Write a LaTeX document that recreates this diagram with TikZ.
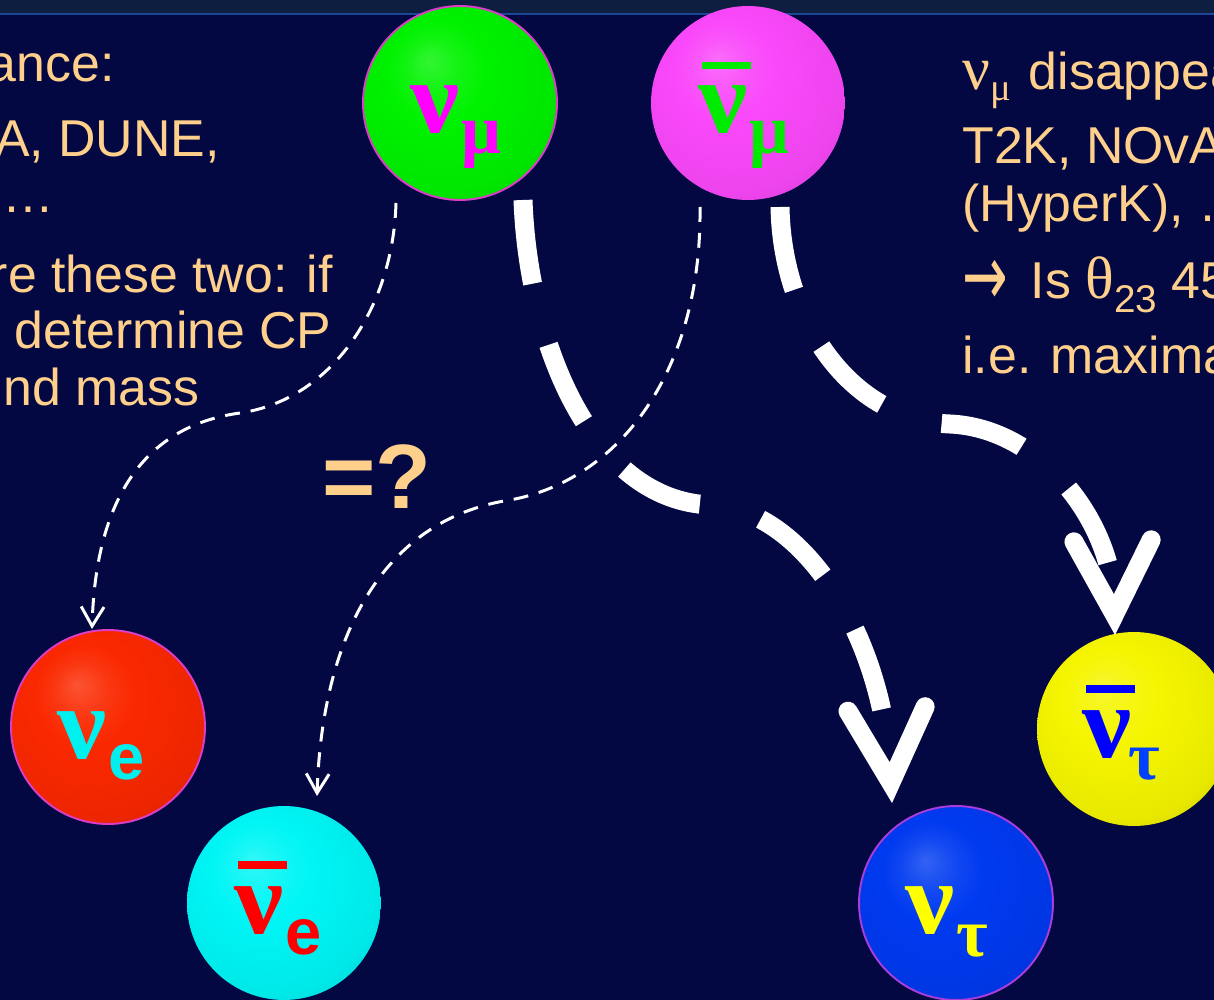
\documentclass[tikz,border=0pt]{standalone}
\usepackage{fontspec}
\setmainfont{Liberation Sans}
\newfontfamily\serif{Liberation Serif}
\newfontfamily\sansb{Liberation Sans}
\newfontfamily\dejavu{DejaVu Sans}
\usetikzlibrary{arrows.meta}
\definecolor{bgc}{RGB}{3,8,66}
\definecolor{bandc}{RGB}{14,30,64}
\definecolor{bandline}{RGB}{28,70,150}
\definecolor{peach}{RGB}{255,208,140}
\definecolor{bGreen}{RGB}{0,242,0}
\definecolor{bMag}{RGB}{250,72,250}
\definecolor{bRed}{RGB}{250,40,0}
\definecolor{bCyan}{RGB}{0,245,245}
\definecolor{bBlue}{RGB}{0,58,240}
\definecolor{bYellow}{RGB}{245,245,0}
\definecolor{lMag}{RGB}{255,0,255}
\definecolor{lGreen}{RGB}{0,235,0}
\definecolor{lCyan}{RGB}{0,240,240}
\definecolor{lRed}{RGB}{255,0,0}
\definecolor{lYellow}{RGB}{255,255,0}
\definecolor{lBlue}{RGB}{0,0,255}
\definecolor{lBlueT}{RGB}{0,64,255}
\definecolor{rimMag}{RGB}{220,60,200}
\definecolor{rimPur}{RGB}{170,60,220}
\colorlet{ballc}{white}
\pgfdeclareradialshading[ballc]{softball}{\pgfpoint{-8bp}{11bp}}{%
 color(0bp)=(ballc!80!white); color(7bp)=(ballc!93!white); color(13bp)=(ballc);
 color(28bp)=(ballc!95!black); color(36bp)=(ballc!85!black); color(50bp)=(ballc!78!black)}
\newcommand\lowsub[3]{\raisebox{-#1}{\fontsize{#2}{#2}\selectfont #3}}
\newcommand\bignu{\scalebox{1.1}[1.02]{ν}\kern1pt}
\begin{document}
\begin{tikzpicture}[x=0.02cm,y=-0.02cm,
  ballnode/.style={circle, minimum size=3.88cm, inner sep=0pt},
  sball/.style={/utils/exec={\colorlet{ballc}{#1}}, shading=softball, shade},
  txt/.style={text=peach, font=\fontsize{29.5pt}{29.5pt}\selectfont, inner sep=0pt},
  lbl/.style={anchor=base west, inner sep=0pt, font=\fontsize{57pt}{57pt}\selectfont\serif\bfseries},
  thickdash/.style={draw=white, line width=10.8pt, dash pattern=on 48pt off 36pt,
     -{Straight Barb[length=42pt,width=44pt,line cap=round,line join=miter]}},
  thindash/.style={draw=white, line width=1.7pt, dash pattern=on 8.5pt off 6.2pt,
     -{Straight Barb[length=11pt,width=13pt]}}
]
\useasboundingbox (0,0) rectangle (1214,1000);
\fill[bgc] (0,0) rectangle (1214,1000);
\clip (0,0) rectangle (1214,1000);
\fill[bandc] (0,0) rectangle (1214,13);
\draw[bandline, line width=1.2pt] (0,14) -- (1214,14);

% left column text
\node[txt, anchor=base east] (l1) at (115,82) {ance:};
\node[txt, anchor=base east] (l2) at (220,157) {A, DUNE,};
\node[txt, anchor=base east] (l3) at (55,213) {…};
\node[txt, anchor=base east] (l4) at (333,293) {re these two: if};
\node[txt, anchor=base east] (l5) at (332,348) {determine CP};
\node[txt, anchor=base east] (l6) at (200,405) {nd mass};

% right column text
\node[txt, anchor=base west] (r1) at (962,90) {{\fontsize{35pt}{35pt}\selectfont\serif ν}\lowsub{5.7pt}{22pt}{\serif μ}\kern2pt{} disappea};
\node[txt, anchor=base west] (r2) at (962,164) {T2K, NOvA};
\node[txt, anchor=base west] (r3) at (962,222) {(HyperK), …};
\node[txt, anchor=base west] (r4) at (962,298) {\raisebox{-4.5pt}{\scalebox{1.05}[1.65]{\dejavu →}}\kern13pt Is {\fontsize{34pt}{34pt}\selectfont\serif θ}\lowsub{8.5pt}{22pt}{23} 45};
\node[txt, anchor=base west] (r5) at (962,373) {i.e. maxima};

\node[txt, anchor=base west, font=\fontsize{52pt}{52pt}\selectfont\bfseries] (eq) at (322,508) {=?};

% balls
\node[ballnode, sball=bGreen, draw=rimMag, line width=1.1pt] (numu) at (460,103) {};
\node[ballnode, sball=bMag] (anumu) at (748,103) {};
\node[ballnode, sball=bRed, draw=rimMag, line width=1.1pt] (nue) at (108,727) {};
\node[ballnode, sball=bCyan] (anue) at (284,903) {};
\node[ballnode, sball=bBlue, draw=rimPur, line width=1.1pt] (nutau) at (956,903) {};
\node[ballnode, sball=bYellow] (anutau) at (1134,729) {};

% connector end points
\coordinate (s1) at (523,200);
\coordinate (e1) at (892,803);
\coordinate (s2) at (780,207);
\coordinate (e2) at (1115,635);
\coordinate (s3) at (396,203);
\coordinate (e3) at (92,629);
\coordinate (s4) at (700,207);
\coordinate (e4) at (317,796);

\draw[thickdash] (s1) .. controls (528,340) and (590,500) .. (710,505)
                      .. controls (800,508) and (882,630) .. (e1);
\draw[thickdash] (s2) .. controls (782,320) and (850,420) .. (950,424)
                      .. controls (1040,428) and (1112,520) .. (e2);
\draw[thindash] (s3) .. controls (393,310) and (330,400) .. (240,413)
                     .. controls (130,428) and (95,520) .. (e3);
\draw[thindash] (s4) .. controls (702,370) and (620,480) .. (510,500)
                     .. controls (380,520) and (322,640) .. (e4);

% labels
\node[lbl, text=lMag] (numuL) at (410,133) {\bignu\lowsub{11.9pt}{40pt}{μ}};
\fill[lGreen] (702,62) rectangle (751,69);
\node[lbl, text=lGreen] (anumuL) at (698,133) {\bignu\lowsub{11.9pt}{40pt}{μ}};
\node[lbl, text=lCyan] (nueL) at (57,758) {\bignu\lowsub{12pt}{37pt}{\sansb\bfseries e}};
\fill[lRed] (238,861) rectangle (287,869);
\node[lbl, text=lRed] (anueL) at (234,933) {\bignu\lowsub{12.5pt}{37pt}{\sansb\bfseries e}};
\node[lbl, text=lYellow] (nutauL) at (905,933) {\bignu\lowsub{13.6pt}{39pt}{τ}};
\fill[lBlue] (1086,685) rectangle (1135,693);
\node[lbl, text=lBlue] (anutauL) at (1082,757) {\bignu\kern-3pt\lowsub{13pt}{39pt}{\color{lBlueT}τ}};
\end{tikzpicture}
\end{document}
